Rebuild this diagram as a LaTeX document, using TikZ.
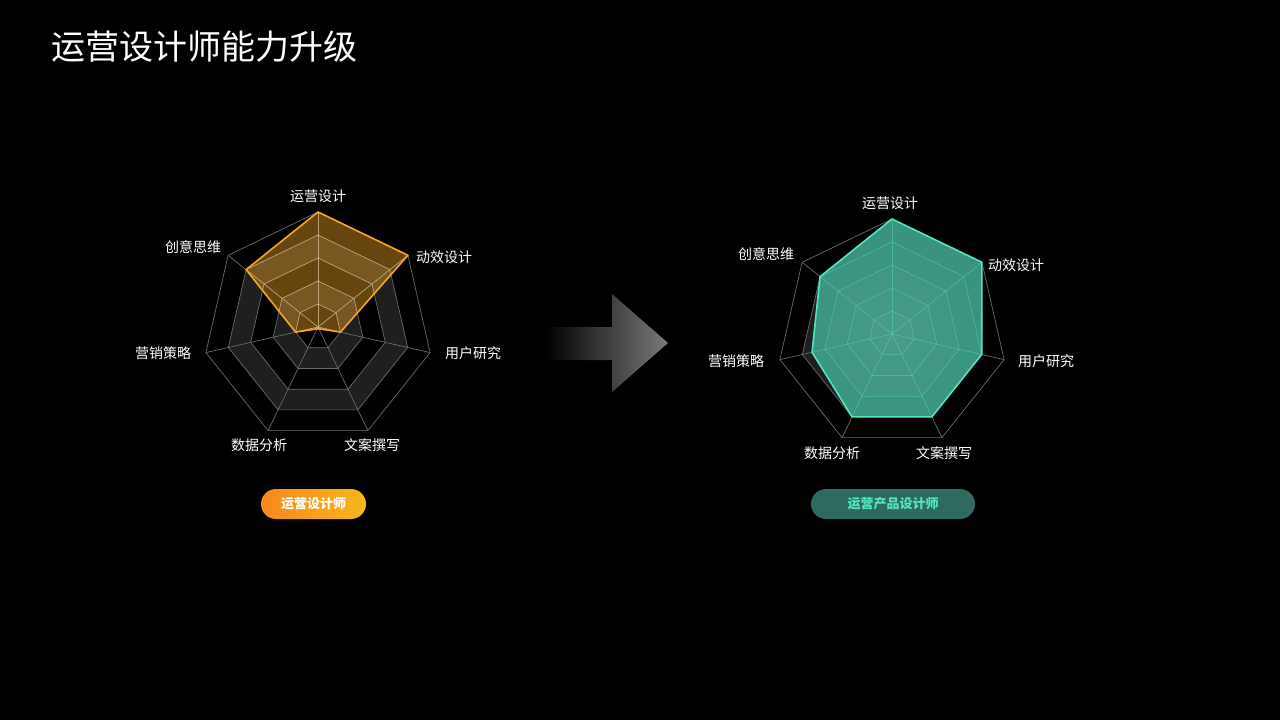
\documentclass[tikz,border=0pt]{standalone}
\usepackage{fontspec}
\setmainfont{Noto Sans CJK SC}
\usetikzlibrary{shadings}
\definecolor{band}{HTML}{1F1F1F}
\definecolor{gridc}{HTML}{6A6A6A}
\definecolor{orl}{HTML}{F5A623}
\definecolor{tel}{HTML}{52E5C2}
\definecolor{telf}{HTML}{3FA08A}
\definecolor{oa}{HTML}{F7881E}
\definecolor{ob}{HTML}{F5B81A}
\definecolor{pillg}{HTML}{2E6B5E}
\definecolor{arrg}{HTML}{7A7A7A}
\tikzset{lab/.style={text=white,font=\fontsize{14}{16}\selectfont,inner sep=0pt},
  gl/.style={draw=gridc,line width=0.7pt}}
\newcommand{\hep}[3]{(#1,{#2-#3}) \foreach \k in {1,...,6}{-- ({#1+#3*sin(\k*360/7)},{#2-#3*cos(\k*360/7)})} -- cycle}
\newcommand{\grid}[3]{%
  \fill[band] \hep{#1}{#2}{#3*0.8};
  \fill[black] \hep{#1}{#2}{#3*0.6};
  \fill[band] \hep{#1}{#2}{#3*0.4};
  \fill[black] \hep{#1}{#2}{#3*0.2};
  \foreach \l in {0.2,0.4,0.6,0.8,1}{\draw[gl] \hep{#1}{#2}{#3*\l};}
  \foreach \k in {0,...,6}{\draw[gl] (#1,#2) -- ({#1+#3*sin(\k*360/7)},{#2-#3*cos(\k*360/7)});}}
\newcommand{\innergrid}[3]{%
  \foreach \l in {0.2,0.4,0.6,0.8,1}{\draw[#3] \hep{#1}{#2}{115*\l};}
  \foreach \k in {0,...,6}{\draw[#3] (#1,#2) -- ({#1+115*sin(\k*360/7)},{#2-115*cos(\k*360/7)});}}
\begin{document}
\begin{tikzpicture}[x=1pt,y=-1pt]
\fill[black] (0,0) rectangle (1280,720);
\useasboundingbox (0,0) rectangle (1280,720);
\node[anchor=west,text=white,font=\fontsize{34}{40}\selectfont,inner sep=0pt] (title) at (51,47) {运营设计师能力升级};
% left radar
\grid{318}{327}{115}
\def\lpoly{(318,212) -- ({318+115*sin(360/7)},{327-115*cos(360/7)}) -- ({318+23*sin(720/7)},{327-23*cos(720/7)}) -- ({318+2*sin(1080/7)},{327-2*cos(1080/7)}) -- ({318+2*sin(1440/7)},{327-2*cos(1440/7)}) -- ({318+23*sin(1800/7)},{327-23*cos(1800/7)}) -- ({318+92*sin(2160/7)},{327-92*cos(2160/7)}) -- cycle}
\begin{scope}
\clip \lpoly;
\fill[orl,opacity=0.42] (0,0) rectangle (1280,720);
\innergrid{318}{327}{draw=white,opacity=0.25,line width=0.7pt}
\end{scope}
\draw[orl,line width=1.6pt,line join=round] \lpoly;
% right radar
\grid{892}{334}{115}
\def\rpoly{(892,219) -- ({892+115*sin(360/7)},{334-115*cos(360/7)}) -- ({892+92*sin(720/7)},{334-92*cos(720/7)}) -- ({892+92*sin(1080/7)},{334-92*cos(1080/7)}) -- ({892+92*sin(1440/7)},{334-92*cos(1440/7)}) -- ({892+82*sin(1800/7)},{334-82*cos(1800/7)}) -- ({892+92*sin(2160/7)},{334-92*cos(2160/7)}) -- cycle}
\begin{scope}
\clip \rpoly;
\fill[telf,opacity=0.92] (0,0) rectangle (1280,720);
\foreach \l in {0.2,0.6}{\fill[white,opacity=0.04] \hep{892}{334}{115*\l};}
\innergrid{892}{334}{draw=tel,opacity=0.35,line width=0.7pt}
\end{scope}
\draw[tel,line width=1.6pt,line join=round] \rpoly;
% labels
\node[lab] (l1) at (318,196) {运营设计};
\node[lab] (l2) at (444,257) {动效设计};
\node[lab] (l3) at (473,353) {用户研究};
\node[lab] (l4) at (372,445) {文案撰写};
\node[lab] (l5) at (259,445) {数据分析};
\node[lab] (l6) at (163,353) {营销策略};
\node[lab] (l7) at (193,247) {创意思维};
\node[lab] (r1) at (890,203) {运营设计};
\node[lab] (r2) at (1016,265) {动效设计};
\node[lab] (r3) at (1046,361) {用户研究};
\node[lab] (r4) at (944,453) {文案撰写};
\node[lab] (r5) at (832,453) {数据分析};
\node[lab] (r6) at (736,361) {营销策略};
\node[lab] (r7) at (766,254) {创意思维};
% arrow
\shade[left color=black,right color=arrg] (545,327) -- (612,327) -- (612,294) -- (668,343) -- (612,392) -- (612,360) -- (545,360) -- cycle;
% badges
\shade[rounded corners=15pt,left color=oa,right color=ob] (261,489) rectangle (366,519);
\node[text=white,font=\fontsize{13}{15}\selectfont\bfseries,inner sep=0pt] (b1) at (313.5,504) {运营设计师};
\fill[rounded corners=15pt,pillg] (811,489) rectangle (975,519);
\node[text=tel,font=\fontsize{13}{15}\selectfont\bfseries,inner sep=0pt] (b2) at (893,504) {运营产品设计师};
\end{tikzpicture}
\end{document}
